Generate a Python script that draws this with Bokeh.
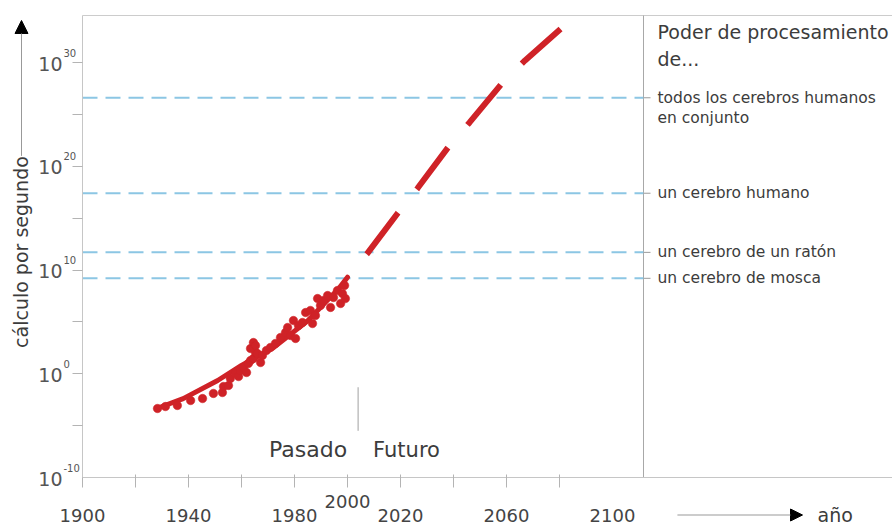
import math
from bokeh.plotting import figure
from bokeh.models import (Range1d, FixedTicker, CustomJSTickFormatter, Label,
                          Arrow, NormalHead, ColumnDataSource, LinearAxis, LogAxis)
from bokeh.embed import file_html
from bokeh.resources import INLINE

# ---------------- data (exponents are log10 of calculations per second) ----------------
trend_past_years = [1928, 1938, 1951, 1960, 1972, 1985, 1997, 2000]
trend_past_exp = [-3.35, -2.4, -0.65, 0.8, 2.5, 5.1, 8.3, 9.3]

trend_future_years = [2000, 2007.5, 2019, 2026.5, 2038.5, 2046, 2059, 2067, 2082]
trend_future_exp = [9.3, 11.6, 15.5, 17.9, 22.0, 24.2, 28.2, 30.2, 33.6]

machine_years = [1928.3, 1931.3, 1935.8, 1940.8, 1945.3, 1949.4, 1952.8, 1953.2, 1955.1, 1955.8,
                 1957.7, 1958.9, 1959.6, 1960.8, 1961.9, 1962.6, 1963.4, 1964.5, 1965.3, 1966.0,
                 1963.4, 1964.5, 1965.3, 1967.2, 1967.9, 1969.4, 1970.9, 1972.8, 1974.7, 1976.6,
                 1977.4, 1978.5, 1979.6, 1980.4, 1981.5, 1983.0, 1984.2, 1986.0, 1986.8, 1987.9,
                 1988.7, 1989.8, 1990.9, 1992.5, 1993.6, 1994.7, 1996.2, 1997.4, 1998.1, 1999.2,
                 1998.9]
machine_exp = [-3.35, -3.16, -3.06, -2.58, -2.39, -1.9, -1.81, -1.23, -1.13, -0.46,
               0.02, -0.27, 0.31, 0.6, 0.12, 0.99, 1.28, 1.47, 2.05, 1.95,
               2.43, 3.01, 2.72, 1.08, 1.76, 2.24, 2.53, 2.92, 3.49, 3.98,
               4.46, 3.69, 5.13, 3.4, 4.65, 4.94, 5.9, 6.1, 4.84, 5.61,
               7.25, 6.58, 7.06, 7.54, 6.39, 7.35, 8.02, 6.77, 7.73, 7.25,
               8.51]

brain_labels = ["todos los cerebros humanos", "un cerebro humano",
                "un cerebro de un ratón", "un cerebro de mosca"]
brain_exp = [26.6, 17.4, 11.7, 9.2]

x_tick_years = [1900, 1920, 1940, 1960, 1980, 2000, 2020, 2040, 2060, 2080]
x_label_years = [1900, 1940, 1980, 2000, 2020, 2060, 2100]
y_tick_exp = [-5, 0, 5, 10, 15, 20, 25, 30]
y_label_exp = [-10, 0, 10, 20, 30]

present_year = 2004
panel_split_year = 2111.7

# ---------------- layout / style ----------------
W, H = 892, 525
PX_PER_YEAR = 2.65
PX_PER_DEC = 10.375
X0 = 1900          # left axis position
Y0_EXP = -10       # bottom axis position
LEFT_PX, BOTTOM_PX, TOP_PX = 82, 477, 15
x_start = X0 - LEFT_PX / PX_PER_YEAR
x_end = X0 + (W - LEFT_PX) / PX_PER_YEAR
y_start_exp = Y0_EXP - (H - BOTTOM_PX) / PX_PER_DEC
y_end_exp = Y0_EXP + BOTTOM_PX / PX_PER_DEC
y_top_exp = Y0_EXP + (BOTTOM_PX - TOP_PX) / PX_PER_DEC

RED = "#cf2227"
BLUE = "#8cc6e4"
TXT = "#3c3c3c"
FONT = "DejaVu Sans"

p = figure(width=W, height=H, x_range=Range1d(x_start, x_end),
           y_range=Range1d(10 ** y_start_exp, 10 ** y_end_exp), y_axis_type="log",
           x_axis_location=None, y_axis_location=None,
           output_backend="svg", toolbar_location=None,
           min_border_left=0, min_border_right=0, min_border_top=0, min_border_bottom=0)
p.outline_line_color = None
p.grid.visible = False
p.background_fill_color = "white"
p.border_fill_color = "white"

blank = CustomJSTickFormatter(code="return ''")
xaxis = LinearAxis(fixed_location=10 ** Y0_EXP, bounds=(X0, x_end),
                   ticker=FixedTicker(ticks=x_tick_years, minor_ticks=[]), formatter=blank)
yaxis = LogAxis(fixed_location=X0, bounds=(10 ** Y0_EXP, 10 ** y_top_exp),
                ticker=FixedTicker(ticks=[10 ** e for e in y_tick_exp], minor_ticks=[]),
                formatter=blank)
for ax in (xaxis, yaxis):
    ax.axis_line_color = "#c6c6c6"
    ax.axis_line_width = 1
    ax.major_tick_line_color = "#b4b4b4"
    ax.minor_tick_line_color = None
    ax.major_tick_out = 10
    ax.major_label_text_font_size = "1px"
    ax.major_label_standoff = 0
xaxis.major_tick_in = 3
yaxis.major_tick_in = 0
p.add_layout(xaxis, "below")
p.add_layout(yaxis, "left")

# top border and right panel separator
p.segment(x0=[X0], x1=[x_end], y0=[10 ** y_top_exp], y1=[10 ** y_top_exp],
          line_color="#cccccc", line_width=1)
p.segment(x0=[panel_split_year], x1=[panel_split_year], y0=[10 ** Y0_EXP],
          y1=[10 ** y_top_exp], line_color="#a8a8a8", line_width=1)

# brain reference lines
brain_src = ColumnDataSource(dict(x0=[X0] * len(brain_exp), x1=[panel_split_year] * len(brain_exp),
                                  x2=[panel_split_year + 7 / PX_PER_YEAR] * len(brain_exp),
                                  y=[10 ** e for e in brain_exp]))
p.segment(x0="x0", x1="x1", y0="y", y1="y", source=brain_src, line_color=BLUE,
          line_width=2, line_dash="15 8")
p.segment(x0="x1", x1="x2", y0="y", y1="y", source=brain_src, line_color="#999999", line_width=1)

# trend curve
p.line(trend_past_years, [10 ** e for e in trend_past_exp], line_color=RED, line_width=5,
       line_cap="round")
p.line(trend_future_years, [10 ** e for e in trend_future_exp], line_color=RED, line_width=6,
       line_dash="52 30", line_dash_offset=52)

# machines
p.scatter(machine_years, [10 ** e for e in machine_exp], size=8.5, fill_color=RED,
          line_color=RED, line_width=0.5)

# past / future divider
p.segment(x0=[present_year], x1=[present_year], y0=[10 ** -1.3], y1=[10 ** -5.5],
          line_color="#a0a0a0", line_width=1)
p.add_layout(Label(x=present_year, y=10 ** Y0_EXP, x_offset=-11, y_offset=28, text="Pasado",
                   text_align="right", text_baseline="middle", text_font=FONT,
                   text_font_size="22px", text_color=TXT))
p.add_layout(Label(x=present_year, y=10 ** Y0_EXP, x_offset=15, y_offset=28, text="Futuro",
                   text_align="left", text_baseline="middle", text_font=FONT,
                   text_font_size="21px", text_color=TXT))

# right panel texts
p.add_layout(Label(x=panel_split_year, y=10 ** y_top_exp, x_offset=14, y_offset=-16,
                   text="Poder de procesamiento", text_align="left", text_baseline="middle",
                   text_font=FONT, text_font_size="19px", text_color=TXT))
p.add_layout(Label(x=panel_split_year, y=10 ** y_top_exp, x_offset=14, y_offset=-43,
                   text="de...", text_align="left", text_baseline="middle",
                   text_font=FONT, text_font_size="19px", text_color=TXT))
for lab, e in zip(brain_labels, brain_exp):
    p.add_layout(Label(x=panel_split_year, y=10 ** e, x_offset=14, y_offset=0, text=lab,
                       text_align="left", text_baseline="middle", text_font=FONT,
                       text_font_size="15.5px", text_color=TXT))
p.add_layout(Label(x=panel_split_year, y=10 ** brain_exp[0], x_offset=14, y_offset=-20,
                   text="en conjunto", text_align="left", text_baseline="middle",
                   text_font=FONT, text_font_size="15.5px", text_color=TXT))

# y tick labels 10^n
for e in y_label_exp:
    p.add_layout(Label(x=X0, y=10 ** e, x_offset=-20, y_offset=-1, text="10",
                       text_align="right", text_baseline="middle", text_font=FONT,
                       text_font_size="19px", text_color="#555555"))
    p.add_layout(Label(x=X0, y=10 ** e, x_offset=-19, y_offset=10, text=str(e),
                       text_align="left", text_baseline="middle", text_font=FONT,
                       text_font_size="10px", text_color="#555555"))

# x tick labels
x_label_drop = {1900: 37.5, 1940: 38, 1980: 37.5, 2000: 23.5, 2020: 38, 2060: 37.5, 2100: 37.5}
for yr in x_label_years:
    p.add_layout(Label(x=yr, y=10 ** Y0_EXP, y_offset=-x_label_drop[yr], text=str(yr),
                       text_align="center", text_baseline="middle", text_font=FONT,
                       text_font_size="18px", text_color="#444444"))

# y axis title with arrow
y_title_x = X0 - 61 / PX_PER_YEAR
p.add_layout(Label(x=y_title_x, x_offset=-1, y=10 ** 11.73, text="cálculo por segundo",
                   angle=math.pi / 2, text_align="center", text_baseline="middle",
                   text_font=FONT, text_font_size="19px", text_color=TXT))
p.add_layout(Arrow(end=NormalHead(size=13, fill_color="black", line_color="black"),
                   x_start=y_title_x, y_start=10 ** 21.0, x_end=y_title_x,
                   y_end=10 ** 34.05, line_color="#999999", line_width=1))

# x axis title with arrow
below_exp = Y0_EXP - 37.5 / PX_PER_DEC
p.add_layout(Arrow(end=NormalHead(size=12, fill_color="black", line_color="black"),
                   x_start=2124.5, y_start=10 ** below_exp, x_end=2171.7,
                   y_end=10 ** below_exp, line_color="#999999", line_width=1))
p.add_layout(Label(x=2171.7, y=10 ** below_exp, x_offset=15, text="año", text_align="left",
                   text_baseline="middle", text_font=FONT, text_font_size="19px",
                   text_color=TXT))

open("out.html", "w").write(file_html(p, INLINE))
